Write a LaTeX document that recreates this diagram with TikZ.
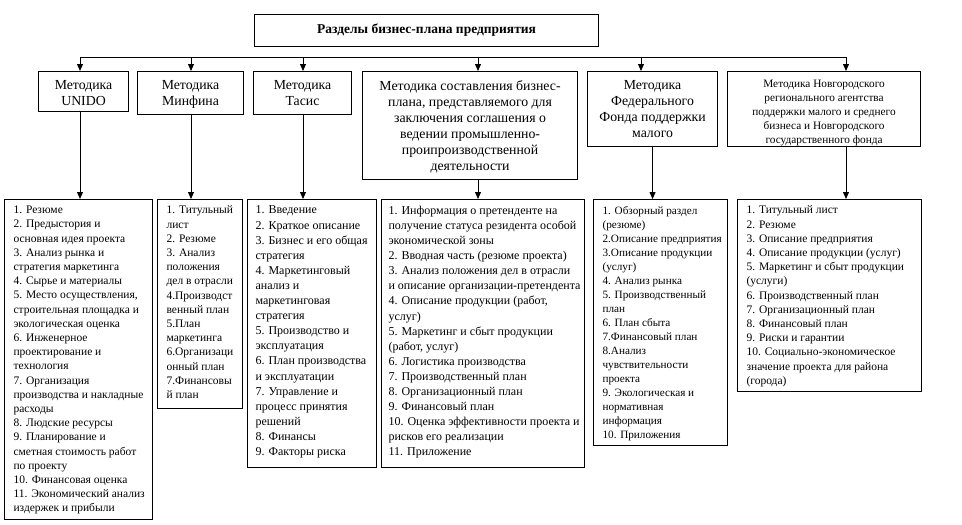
\documentclass[tikz,border=0pt]{standalone}
\usepackage{fontspec}
\setmainfont{Liberation Serif}
\usetikzlibrary{arrows.meta}
\newcommand{\pbx}[3]{\parbox[t][#2pt][t]{#1pt}{#3}}
\newcommand{\hdfont}{\fontsize{13.8}{16}\selectfont}
\newcommand{\nvfont}{\fontsize{11.3}{13.8}\selectfont}
\newcommand{\lsfont}{\fontsize{11.5}{14.2}\selectfont}
\newcommand{\lsbfont}{\fontsize{12}{15.1}\selectfont}
\tikzset{
  box/.style={draw, line width=1.1pt, inner sep=0pt, anchor=north west},
  arr/.style={-{Triangle[width=6pt,length=7pt]}, line width=1pt},
  conn/.style={line width=1pt}
}
\begin{document}
\begin{tikzpicture}[x=1pt,y=-1pt]
\useasboundingbox (0,0) rectangle (962,525);
\fill[white] (0,0) rectangle (962,525);

% title
\node[box, minimum width=344pt, minimum height=32pt, font=\fontsize{13.5}{16}\selectfont\bfseries] (t) at (254,14) {Разделы бизнес-плана предприятия};

% level 2
\node[box] (u) at (38,71) {\pbx{90}{40}{\vspace*{9pt}\centering\hdfont Методика\\UNIDO}};
\node[box] (m) at (137,71) {\pbx{106}{43}{\vspace*{9pt}\centering\hdfont Методика\\Минфина}};
\node[box] (s) at (253,71) {\pbx{98}{43}{\vspace*{9pt}\centering\hdfont Методика\\Тасис}};
\node[box] (b) at (362,71) {\pbx{215}{108}{\vspace*{9pt}\centering\hdfont Методика составления бизнес-\\плана, представляемого для\\заключения соглашения о\\ведении промышленно-\\проипроизводственной\\деятельности}};
\node[box] (f) at (587,71) {\pbx{130}{75}{\vspace*{9pt}\centering\hdfont Методика\\Федерального\\Фонда поддержки\\малого}};
\node[box] (n) at (727,71) {\pbx{193}{75}{\vspace*{9pt}\centering\nvfont Методика Новгородского\\регионального агентства\\поддержки малого и среднего\\бизнеса и Новгородского\\государственного фонда}};

% level 3
\node[box] (ul) at (4,199) {\pbx{148}{320}{\vspace*{6.5pt}\lsfont\raggedright\leftskip=9pt
1. Резюме\\
2. Предыстория и\\
основная идея проекта\\
3. Анализ рынка и\\
стратегия маркетинга\\
4. Сырье и материалы\\
5. Место осуществления,\\
строительная площадка и\\
экологическая оценка\\
6. Инженерное\\
проектирование и\\
технология\\
7. Организация\\
производства и накладные\\
расходы\\
8. Людские ресурсы\\
9. Планирование и\\
сметная стоимость работ\\
по проекту\\
10. Финансовая оценка\\
11. Экономический анализ\\
издержек и прибыли}};

\node[box] (ml) at (157,199) {\pbx{85}{209}{\vspace*{6.5pt}\lsfont\raggedright\leftskip=9pt
1. Титульный\\
лист\\
2. Резюме\\
3. Анализ\\
положения\\
дел в отрасли\\
4.Производст\\
венный план\\
5.План\\
маркетинга\\
6.Организаци\\
онный план\\
7.Финансовы\\
й план}};

\node[box] (sl) at (247,199) {\pbx{129}{268}{\vspace*{6.5pt}\lsbfont\raggedright\leftskip=8pt
1. Введение\\
2. Краткое описание\\
3. Бизнес и его общая\\
стратегия\\
4. Маркетинговый\\
анализ и\\
маркетинговая\\
стратегия\\
5. Производство и\\
эксплуатация\\
6. План производства\\
и эксплуатации\\
7. Управление и\\
процесс принятия\\
решений\\
8. Финансы\\
9. Факторы риска}};

\node[box] (bl) at (381,199) {\pbx{203}{268}{\vspace*{6.5pt}\lsbfont\raggedright\leftskip=7pt
1. Информация о претенденте на\\
получение статуса резидента особой\\
экономической зоны\\
2. Вводная часть (резюме проекта)\\
3. Анализ положения дел в отрасли\\
и описание организации-претендента\\
4. Описание продукции (работ,\\
услуг)\\
5. Маркетинг и сбыт продукции\\
(работ, услуг)\\
6. Логистика производства\\
7. Производственный план\\
8. Организационный план\\
9. Финансовый план\\
10. Оценка эффективности проекта и\\
рисков его реализации\\
11. Приложение}};

\node[box] (fl) at (593,199) {\pbx{134}{246}{\vspace*{6.5pt}\fontsize{11.2}{14}\selectfont\raggedright\leftskip=9pt
1. Обзорный раздел\\
(резюме)\\
2.Описание предприятия\\
3.Описание продукции\\
(услуг)\\
4. Анализ рынка\\
5. Производственный\\
план\\
6. План сбыта\\
7.Финансовый план\\
8.Анализ\\
чувствительности\\
проекта\\
9. Экологическая и\\
нормативная\\
информация\\
10. Приложения}};

\node[box] (nl) at (737,199) {\pbx{184}{192}{\vspace*{6.5pt}\lsfont\raggedright\leftskip=9pt
1. Титульный лист\\
2. Резюме\\
3. Описание предприятия\\
4. Описание продукции (услуг)\\
5. Маркетинг и сбыт продукции\\
(услуги)\\
6. Производственный план\\
7. Организационный план\\
8. Финансовый план\\
9. Риски и гарантии\\
10. Социально-экономическое\\
значение проекта для района\\
(города)}};

% branch line
\coordinate (a1) at (80,57);
\coordinate (a2) at (191,57);
\coordinate (a3) at (303,57);
\coordinate (a4) at (478,57);
\coordinate (a5) at (641,57);
\coordinate (a6) at (846,57);
\draw[conn] (a1) -- (a6);
\foreach \p/\q in {a1/u, a2/m, a3/s, a4/b, a5/f, a6/n}
  \draw[arr] (\p) -- (\p |- \q.north);

% down arrows
\draw[arr] (u.south -| a1) -- (a1 |- ul.north);
\draw[arr] (m.south -| a2) -- (a2 |- ml.north);
\draw[arr] (s.south -| a3) -- (a3 |- sl.north);
\draw[arr] (b.south -| a4) -- (a4 |- bl.north);
\draw[arr] (f.south) -- (f.south |- fl.north);
\draw[arr] (n.south -| a6) -- (a6 |- nl.north);
\end{tikzpicture}
\end{document}
